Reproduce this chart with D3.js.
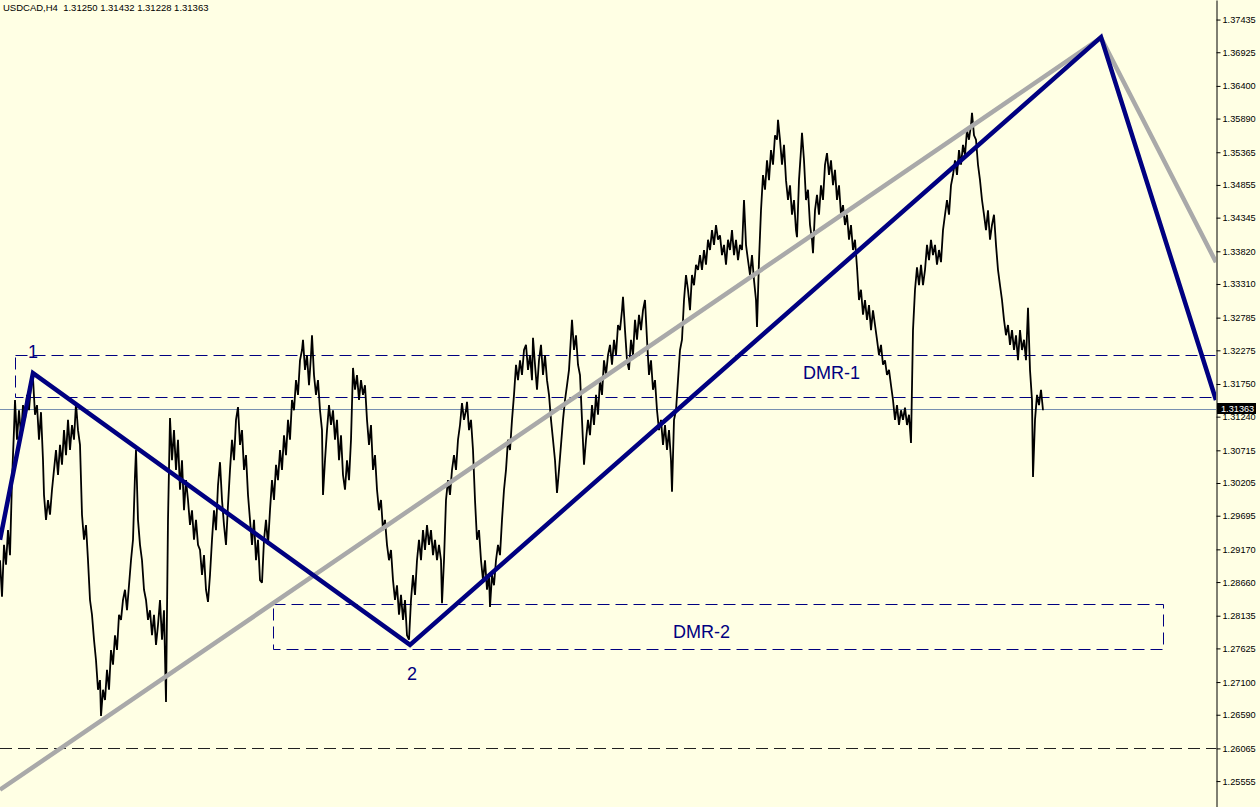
<!DOCTYPE html>
<html>
<head>
<meta charset="utf-8">
<script src="https://cdn.jsdelivr.net/npm/d3@7"></script>
<style>
  html, body { margin: 0; padding: 0; background: #FFFFE4; }
  svg { display: block; }
  text { font-family: "Liberation Sans", Arial, sans-serif; }
</style>
</head>
<body>
<svg id="chart" width="1260" height="807"></svg>
<script>
// ---------- DATA ----------
const symbolTitle = "USDCAD,H4";
const ohlcValues = ["1.31250", "1.31432", "1.31228", "1.31363"];
const bidPrice = 1.31363;

const priceTicks = [1.37435, 1.36925, 1.36400, 1.35890, 1.35365, 1.34855, 1.34345, 1.33820,
  1.33310, 1.32785, 1.32275, 1.31750, 1.31240, 1.30715, 1.30205, 1.29695, 1.29170, 1.28660,
  1.28135, 1.27625, 1.27100, 1.26590, 1.26065, 1.25555];

// [bar index, price]
const priceSeries = [
[0,1.2900],[2,1.2843],[4,1.2924],[6,1.2893],[8,1.2947],[10,1.2908],[12,1.3025],[14,1.3103],[15,1.3150],[17,1.3088],[19,1.3134],[21,1.3095],[23,1.3142],[25,1.3119],[27,1.3158],[29,1.3134],[31,1.3173],[33,1.3184],[35,1.3127],[37,1.3142],[39,1.3088],[41,1.3131],[43,1.3056],[44,1.3002],[46,1.2963],[48,1.2994],[50,1.2971],[52,1.3010],[54,1.3041],[56,1.3072],[58,1.3033],[60,1.3080],[62,1.3049],[64,1.3103],[66,1.3064],[68,1.3119],[70,1.3072],[72,1.3111],[74,1.3088],[76,1.3145],[78,1.3103],[80,1.3080],[82,1.2971],[84,1.2932],[86,1.2955],[88,1.2900],[90,1.2838],[92,1.2815],[94,1.2776],[96,1.2744],[98,1.2698],[100,1.2713],[101,1.2657],[103,1.2698],[105,1.2682],[107,1.2729],[109,1.2698],[111,1.2760],[113,1.2737],[115,1.2783],[117,1.2760],[119,1.2815],[121,1.2807],[123,1.2838],[125,1.2854],[127,1.2822],[129,1.2861],[131,1.2900],[133,1.2932],[135,1.3033],[136,1.3072],[138,1.2963],[140,1.2924],[142,1.2900],[144,1.2854],[146,1.2838],[148,1.2807],[150,1.2822],[152,1.2783],[154,1.2815],[156,1.2768],[158,1.2799],[160,1.2838],[162,1.2776],[164,1.2822],[166,1.2679],[168,1.2963],[170,1.3122],[172,1.3056],[174,1.3103],[176,1.3041],[178,1.3088],[180,1.3010],[182,1.3056],[184,1.2978],[186,1.3025],[188,1.2994],[190,1.2955],[192,1.2978],[194,1.2932],[196,1.2963],[198,1.2924],[200,1.2916],[202,1.2877],[204,1.2908],[206,1.2854],[208,1.2835],[210,1.2877],[212,1.2932],[214,1.2978],[216,1.2947],[218,1.3017],[220,1.3053],[222,1.2994],[224,1.2955],[226,1.2924],[228,1.2986],[230,1.3041],[232,1.3088],[234,1.3056],[236,1.3119],[238,1.3139],[240,1.3080],[242,1.3103],[244,1.3041],[246,1.3064],[248,1.3002],[250,1.2963],[252,1.2924],[254,1.2963],[256,1.2900],[258,1.2932],[260,1.2869],[262,1.2865],[264,1.2932],[266,1.2963],[268,1.2924],[270,1.2978],[272,1.3025],[274,1.2994],[276,1.3049],[278,1.3025],[280,1.3072],[282,1.3041],[284,1.3095],[286,1.3064],[288,1.3119],[290,1.3088],[292,1.3150],[294,1.3134],[296,1.3181],[298,1.3158],[300,1.3212],[302,1.3228],[303,1.3244],[305,1.3197],[307,1.3220],[309,1.3173],[311,1.3220],[312,1.3251],[314,1.3189],[316,1.3158],[318,1.3181],[320,1.3134],[322,1.3103],[323,1.3002],[325,1.3056],[327,1.3103],[329,1.3142],[331,1.3111],[333,1.3134],[335,1.3088],[337,1.3119],[339,1.3056],[341,1.3095],[343,1.3033],[345,1.3010],[347,1.3056],[349,1.3025],[351,1.3088],[353,1.3200],[355,1.3166],[357,1.3189],[359,1.3150],[361,1.3181],[363,1.3158],[365,1.3173],[367,1.3119],[369,1.3080],[371,1.3111],[373,1.3041],[375,1.3064],[377,1.3010],[379,1.2978],[381,1.2994],[383,1.2947],[385,1.2963],[387,1.2924],[389,1.2900],[391,1.2916],[393,1.2869],[395,1.2838],[397,1.2861],[399,1.2815],[401,1.2846],[403,1.2807],[405,1.2838],[407,1.2783],[409,1.2776],[411,1.2838],[413,1.2877],[415,1.2846],[417,1.2900],[419,1.2932],[421,1.2900],[423,1.2947],[425,1.2916],[427,1.2955],[429,1.2924],[431,1.2947],[433,1.2908],[435,1.2932],[437,1.2900],[439,1.2924],[441,1.2900],[442,1.2833],[444,1.2900],[446,1.2994],[448,1.3025],[450,1.3002],[452,1.3041],[454,1.3064],[456,1.3041],[458,1.3088],[460,1.3111],[462,1.3145],[464,1.3119],[466,1.3134],[467,1.3147],[469,1.3103],[471,1.3119],[473,1.3072],[475,1.2994],[477,1.2932],[479,1.2947],[481,1.2900],[483,1.2869],[485,1.2900],[487,1.2854],[489,1.2877],[490,1.2827],[492,1.2877],[494,1.2861],[496,1.2900],[498,1.2924],[500,1.2908],[502,1.2963],[504,1.3010],[506,1.3041],[508,1.3088],[510,1.3072],[512,1.3119],[514,1.3158],[516,1.3205],[518,1.3181],[520,1.3212],[522,1.3189],[524,1.3228],[526,1.3236],[528,1.3197],[530,1.3220],[532,1.3181],[533,1.3247],[535,1.3205],[537,1.3166],[539,1.3212],[541,1.3236],[543,1.3189],[545,1.3220],[547,1.3181],[549,1.3158],[551,1.3119],[553,1.3088],[555,1.3056],[557,1.3005],[559,1.3041],[561,1.3080],[563,1.3119],[565,1.3150],[567,1.3173],[569,1.3197],[572,1.3275],[574,1.3228],[576,1.3251],[578,1.3205],[580,1.3189],[582,1.3119],[584,1.3049],[586,1.3088],[588,1.3119],[590,1.3095],[592,1.3142],[594,1.3111],[596,1.3158],[598,1.3127],[600,1.3181],[602,1.3158],[604,1.3212],[606,1.3189],[608,1.3220],[610,1.3236],[612,1.3205],[614,1.3244],[616,1.3220],[618,1.3267],[620,1.3259],[622,1.3290],[623,1.3311],[625,1.3259],[627,1.3212],[629,1.3197],[631,1.3244],[633,1.3220],[635,1.3275],[637,1.3244],[639,1.3283],[641,1.3259],[643,1.3290],[645,1.3306],[647,1.3244],[649,1.3189],[651,1.3212],[653,1.3166],[655,1.3181],[657,1.3134],[659,1.3103],[661,1.3119],[663,1.3080],[665,1.3111],[667,1.3072],[669,1.3103],[671,1.3056],[672,1.3007],[674,1.3119],[676,1.3134],[678,1.3181],[680,1.3228],[682,1.3244],[684,1.3306],[686,1.3345],[688,1.3322],[690,1.3290],[692,1.3345],[694,1.3329],[696,1.3361],[698,1.3353],[700,1.3376],[702,1.3353],[704,1.3384],[706,1.3361],[708,1.3400],[710,1.3384],[712,1.3415],[714,1.3392],[716,1.3423],[718,1.3400],[720,1.3407],[722,1.3376],[724,1.3392],[726,1.3361],[728,1.3400],[730,1.3384],[732,1.3415],[734,1.3376],[736,1.3400],[738,1.3368],[740,1.3392],[742,1.3384],[744,1.3462],[746,1.3392],[748,1.3368],[750,1.3345],[752,1.3376],[754,1.3337],[756,1.3306],[757,1.3264],[759,1.3368],[761,1.3446],[763,1.3501],[765,1.3478],[767,1.3524],[769,1.3493],[771,1.3540],[773,1.3517],[775,1.3563],[777,1.3556],[778,1.3587],[780,1.3556],[782,1.3517],[784,1.3548],[786,1.3493],[788,1.3462],[790,1.3485],[792,1.3439],[794,1.3462],[796,1.3415],[797,1.3404],[799,1.3493],[801,1.3540],[802,1.3567],[804,1.3524],[806,1.3462],[808,1.3478],[810,1.3423],[812,1.3400],[813,1.3379],[815,1.3446],[817,1.3470],[819,1.3439],[821,1.3485],[823,1.3462],[825,1.3517],[827,1.3535],[829,1.3501],[831,1.3524],[833,1.3485],[835,1.3509],[837,1.3462],[839,1.3485],[841,1.3439],[843,1.3454],[845,1.3423],[847,1.3439],[849,1.3400],[851,1.3423],[853,1.3384],[855,1.3400],[857,1.3357],[859,1.3306],[861,1.3322],[863,1.3283],[865,1.3306],[867,1.3275],[869,1.3298],[871,1.3259],[873,1.3290],[875,1.3267],[877,1.3244],[879,1.3220],[881,1.3236],[883,1.3205],[885,1.3212],[887,1.3189],[889,1.3197],[891,1.3173],[893,1.3150],[895,1.3119],[897,1.3142],[899,1.3111],[901,1.3134],[903,1.3119],[905,1.3138],[907,1.3111],[909,1.3127],[911,1.3083],[913,1.3259],[915,1.3322],[917,1.3357],[919,1.3329],[921,1.3361],[923,1.3329],[925,1.3353],[927,1.3392],[929,1.3368],[931,1.3400],[933,1.3376],[935,1.3392],[937,1.3361],[939,1.3384],[941,1.3365],[943,1.3415],[945,1.3439],[947,1.3462],[949,1.3439],[951,1.3485],[953,1.3501],[955,1.3524],[957,1.3501],[959,1.3540],[961,1.3517],[963,1.3548],[965,1.3532],[967,1.3571],[969,1.3556],[971,1.3579],[972,1.3598],[974,1.3563],[976,1.3556],[978,1.3517],[980,1.3493],[982,1.3462],[984,1.3439],[986,1.3415],[988,1.3446],[990,1.3400],[992,1.3423],[994,1.3439],[996,1.3392],[998,1.3353],[1000,1.3329],[1002,1.3306],[1004,1.3275],[1006,1.3251],[1008,1.3267],[1010,1.3236],[1012,1.3259],[1014,1.3228],[1016,1.3251],[1018,1.3212],[1020,1.3259],[1022,1.3228],[1024,1.3244],[1026,1.3212],[1028,1.3294],[1030,1.3197],[1032,1.3150],[1033,1.3030],[1035,1.3119],[1037,1.3158],[1039,1.3142],[1041,1.3166],[1043,1.3134]
];

// zigzag (blue) and trend (grey) lines
const zigzagBars   = [0, 33, 410, 1101, 1216];
const zigzagPrices = [1.2932, 1.3192, 1.2768, 1.3716, 1.3150];
const trendBars    = [0, 1101, 1216];
const trendPrices  = [1.2542, 1.3715, 1.3365];

// zones and levels
const dmr1Zone = { bar0: 15, bar1: 1240, top: 1.3220, bottom: 1.3155 };
const dmr2Zone = { bar0: 273, bar1: 1163, top: 1.2832, bottom: 1.2762 };
const supportLevel = 1.2607;

// annotations
const labelTexts  = ["1", "2", "DMR-1", "DMR-2"];
const labelBars   = [33, 412, 803, 673];
const labelPrices = [1.32155, 1.27132, 1.31828, 1.27787];
const labelAnchors = ["middle", "middle", "start", "start"];

// ---------- CHART ----------
const W = 1260, H = 807, axisX = 1216;
const svg = d3.select("#chart");

const x = d3.scaleLinear().domain([0, 1216]).range([0, axisX]);
const y = d3.scaleLinear().domain([1.3774, 1.3774 - 807 * 0.000156]).range([0, H]);

svg.append("rect").attr("width", W).attr("height", H).attr("fill", "#FFFFE4");

svg.append("defs").append("clipPath").attr("id", "plotClip")
  .append("rect").attr("x", 0).attr("y", 0).attr("width", axisX).attr("height", H);

const plot = svg.append("g").attr("clip-path", "url(#plotClip)");

const NAVY = "#000080";
const dash = "12,6";

// bid line
plot.append("line")
  .attr("x1", 0).attr("x2", axisX)
  .attr("y1", Math.round(y(bidPrice)) + 0.5).attr("y2", Math.round(y(bidPrice)) + 0.5)
  .attr("stroke", "#7890B0").attr("stroke-width", 1);

// support dashed level
plot.append("line")
  .attr("x1", 0).attr("x2", axisX)
  .attr("y1", Math.round(y(supportLevel)) + 0.5).attr("y2", Math.round(y(supportLevel)) + 0.5)
  .attr("stroke", "#202020").attr("stroke-width", 1).attr("stroke-dasharray", dash);

// zones (dashed rectangles)
[dmr1Zone, dmr2Zone].forEach(z => {
  plot.append("rect")
    .attr("x", Math.round(x(z.bar0)) + 0.5)
    .attr("y", Math.round(y(z.top)) + 0.5)
    .attr("width", Math.round(x(z.bar1) - x(z.bar0)))
    .attr("height", Math.round(y(z.bottom) - y(z.top)))
    .attr("fill", "none").attr("stroke", NAVY).attr("stroke-width", 1)
    .attr("stroke-dasharray", dash);
});

// price line
const priceLine = d3.line().x(d => x(d[0])).y(d => y(d[1]));
plot.append("path").datum(priceSeries)
  .attr("d", priceLine)
  .attr("fill", "none").attr("stroke", "#000").attr("stroke-width", 1.8)
  .attr("stroke-linejoin", "miter").attr("stroke-miterlimit", 2);

// grey trend line
const trendData = trendBars.map((b, i) => [b, trendPrices[i]]);
plot.append("path").datum(trendData)
  .attr("d", priceLine)
  .attr("fill", "none").attr("stroke", "#A9A9A9").attr("stroke-width", 4.5);

// blue zigzag
const zigData = zigzagBars.map((b, i) => [b, zigzagPrices[i]]);
plot.append("path").datum(zigData)
  .attr("d", priceLine)
  .attr("fill", "none").attr("stroke", NAVY).attr("stroke-width", 4.5)
  .attr("stroke-linejoin", "miter");

// labels
labelTexts.forEach((t, i) => {
  plot.append("text")
    .attr("x", x(labelBars[i])).attr("y", y(labelPrices[i]))
    .attr("text-anchor", labelAnchors[i])
    .attr("font-size", 18).attr("fill", NAVY)
    .text(t);
});

// price axis
const axis = d3.axisRight(y).tickValues(priceTicks).tickSize(4).tickSizeOuter(0)
  .tickPadding(2).tickFormat(d3.format(".5f"));
const ag = svg.append("g").attr("transform", `translate(${axisX + 0.5},0)`).call(axis);
ag.select(".domain").attr("stroke", "#000").attr("stroke-width", 1);
ag.selectAll(".tick line").attr("stroke", "#000");
ag.selectAll(".tick text").attr("font-size", 9.2).attr("fill", "#000")
  .attr("font-family", "'Liberation Sans', Arial, sans-serif");

// bid price box
const by = y(bidPrice);
svg.append("rect").attr("x", axisX + 1).attr("y", Math.round(by) - 6)
  .attr("width", 39).attr("height", 11).attr("fill", "#000");
svg.append("text").attr("x", axisX + 5).attr("y", by).attr("dy", "0.35em")
  .attr("font-size", 9.2).attr("fill", "#fff")
  .text(d3.format(".5f")(bidPrice));

// header
svg.append("text").attr("x", 3).attr("y", 11)
  .attr("font-size", 9.5).attr("fill", "#000")
  .style("white-space", "pre")
  .text(symbolTitle + "  " + ohlcValues.join(" "));
</script>
</body>
</html>
